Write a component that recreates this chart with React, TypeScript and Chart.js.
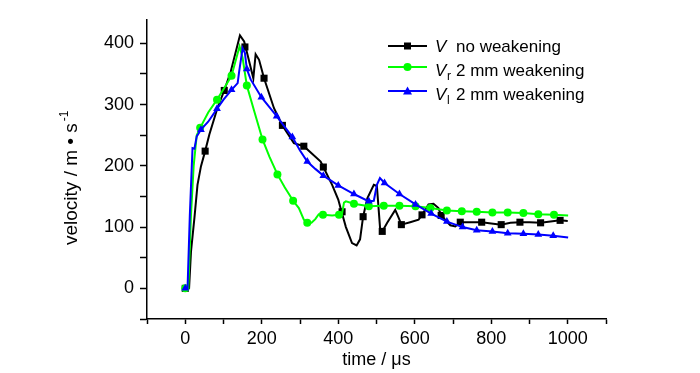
import React, { useEffect, useRef } from 'react';
import { Chart, registerables } from 'chart.js';

Chart.register(...registerables);

// ---- data ----
// V (no weakening): line
const blackT = [0, 10, 15, 24, 32, 41, 52, 63, 84, 102, 119, 143, 154, 163, 178, 184, 193, 206, 232, 254, 284, 310, 354, 361, 384, 400, 406, 420, 436, 448, 457, 465, 476, 493, 501, 510, 515, 528, 549, 558, 565, 588, 610, 619, 636, 649, 662, 669, 693, 706, 719, 750, 775, 800, 826, 850, 875, 900, 929, 955, 980, 1000];
const blackV = [0, 0, 60, 115, 169, 199, 224, 251, 294, 323, 354, 413, 403, 381, 343, 382, 373, 343, 294, 266, 237, 232, 207, 198, 169, 145, 131, 100, 74, 70, 80, 117, 147, 169, 167, 93, 93, 107, 128, 115, 104, 108, 112, 120, 137, 138, 131, 119, 103, 101, 108, 108, 108, 106, 104, 107, 108, 108, 107, 109, 111, 110];
// V markers
const blackMarkT = [0, 52, 102, 156, 206, 254, 310, 361, 410, 465, 515, 565, 619, 669, 719, 775, 826, 875, 929, 980];
const blackMarkV = [0, 224, 323, 394, 343, 266, 232, 198, 125, 117, 93, 104, 120, 119, 108, 108, 104, 108, 107, 111];

// Vr (2 mm weakening): line
const greenT = [0, 8, 15, 22, 30, 39, 60, 83, 100, 121, 142, 150, 161, 180, 202, 220, 241, 260, 282, 297, 310, 319, 330, 340, 349, 360, 384, 402, 410, 415, 420, 441, 480, 519, 560, 602, 641, 684, 723, 762, 803, 843, 884, 923, 964, 1001];
const greenV = [0, 0, 120, 200, 250, 262, 287, 308, 325, 347, 395, 376, 331, 290, 243, 215, 186, 165, 143, 131, 112, 107, 107, 113, 121, 120, 119, 120, 122, 140, 142, 138, 134, 135, 135, 134, 131, 127, 126, 125, 124, 124, 123, 121, 120, 119];
const greenMarkT = [0, 39, 83, 121, 161, 202, 241, 282, 319, 360, 402, 441, 480, 519, 560, 602, 641, 684, 723, 762, 803, 843, 884, 923, 964];
const greenMarkV = [0, 262, 308, 347, 331, 243, 186, 143, 107, 120, 120, 138, 134, 135, 135, 134, 131, 127, 126, 125, 124, 124, 123, 121, 120];

// Vl (2 mm weakening): line
const blueT = [0, 6, 12, 19, 24, 30, 38, 41, 60, 83, 100, 121, 137, 141, 150, 156, 161, 171, 199, 239, 280, 300, 319, 340, 361, 400, 441, 480, 493, 501, 509, 521, 560, 602, 643, 684, 725, 762, 803, 843, 884, 923, 962, 1001];
const blueV = [0, 0, 120, 229, 228, 248, 256, 259, 272, 293, 308, 324, 335, 354, 392, 384, 358, 341, 312, 281, 247, 225, 207, 195, 184, 168, 154, 142, 143, 169, 180, 172, 154, 137, 122, 109, 100, 95, 93, 90, 89, 88, 86, 83];
const blueMarkT = [0, 41, 83, 121, 161, 199, 239, 280, 319, 361, 400, 441, 480, 521, 560, 602, 643, 684, 725, 762, 803, 843, 884, 923, 962];
const blueMarkV = [0, 259, 293, 324, 358, 312, 281, 247, 207, 184, 168, 154, 142, 172, 154, 137, 122, 109, 100, 95, 93, 90, 89, 88, 86];

const seriesLabels = ['V  no weakening', 'Vr 2 mm weakening', 'Vl 2 mm weakening'];
const legendSubs = ['', 'r', 'l'];
const legendRest = ['no weakening', '2 mm weakening', '2 mm weakening'];

const xTickLabels = [0, 200, 400, 600, 800, 1000];
const yTickLabels = [0, 100, 200, 300, 400];

const xTitle = 'time / \u03bcs';
const yTitleMain = 'velocity / m \u2022 s';
const yTitleSup = '-1';

const BLACK = '#000000';
const GREEN = '#00ff00';
const BLUE = '#0000ff';
const FONT = "'Liberation Sans', Arial, sans-serif";

const pts = (t: number[], v: number[]) => t.map((x, i) => ({ x, y: v[i] }));

function drawMarker(ctx: CanvasRenderingContext2D, style: string, x: number, y: number, color: string) {
  ctx.fillStyle = color;
  ctx.beginPath();
  if (style === 'rect') {
    ctx.rect(x - 3.5, y - 3.5, 7, 7);
  } else if (style === 'circle') {
    ctx.arc(x, y, 4, 0, Math.PI * 2);
  } else {
    ctx.moveTo(x, y - 4.5);
    ctx.lineTo(x + 4.5, y + 3.5);
    ctx.lineTo(x - 4.5, y + 3.5);
    ctx.closePath();
  }
  ctx.fill();
}

const legendPlugin = {
  id: 'customLegend',
  afterDraw(chart: any) {
    const ctx = chart.ctx as CanvasRenderingContext2D;
    const colors = [BLACK, GREEN, BLUE];
    const styles = ['rect', 'circle', 'triangle'];
    const lineY = [46, 67, 91];
    const baseY = [52, 76, 100];
    ctx.save();
    for (let i = 0; i < 3; i++) {
      ctx.strokeStyle = colors[i];
      ctx.lineWidth = 2;
      ctx.beginPath();
      ctx.moveTo(388, lineY[i]);
      ctx.lineTo(427, lineY[i]);
      ctx.stroke();
      drawMarker(ctx, styles[i], 407.5, lineY[i], colors[i]);
      ctx.fillStyle = '#000';
      ctx.textBaseline = 'alphabetic';
      ctx.textAlign = 'left';
      ctx.font = `italic 17px ${FONT}`;
      ctx.fillText('V', 435, baseY[i]);
      if (legendSubs[i]) {
        ctx.font = `12px ${FONT}`;
        ctx.fillText(legendSubs[i], 447, baseY[i] + 4);
      }
      ctx.font = `17px ${FONT}`;
      ctx.fillText(legendRest[i], 456, baseY[i]);
    }

    // y-axis title, drawn rotated
    ctx.fillStyle = '#000';
    ctx.translate(72, 245);
    ctx.rotate(-Math.PI / 2);
    ctx.textAlign = 'left';
    ctx.textBaseline = 'middle';
    ctx.font = `19px ${FONT}`;
    ctx.fillText(yTitleMain, 0, 0);
    const w = ctx.measureText(yTitleMain).width;
    ctx.font = `12px ${FONT}`;
    ctx.fillText(yTitleSup, w + 2, -7);

    ctx.restore();
  },
};

export default function App() {
  const ref = useRef<HTMLCanvasElement | null>(null);

  useEffect(() => {
    document.body.style.margin = '0';
    if (!ref.current) return;
    const lineDs = (label: string, data: any[], color: string, order: number) => ({
      label,
      data,
      borderColor: color,
      backgroundColor: color,
      borderWidth: 2,
      pointRadius: 0,
      showLine: true,
      tension: 0,
      order,
    });
    const markDs = (label: string, data: any[], color: string, style: string, radius: number, order: number) => ({
      label,
      data,
      borderColor: color,
      backgroundColor: color,
      borderWidth: 0,
      pointRadius: radius,
      pointStyle: style,
      showLine: false,
      order,
    });
    const chart = new Chart(ref.current, {
      type: 'scatter',
      data: {
        datasets: [
          markDs(seriesLabels[2], pts(blueMarkT, blueMarkV), BLUE, 'triangle', 4.5, 0),
          lineDs(seriesLabels[2], pts(blueT, blueV), BLUE, 1),
          markDs(seriesLabels[1], pts(greenMarkT, greenMarkV), GREEN, 'circle', 4, 2),
          lineDs(seriesLabels[1], pts(greenT, greenV), GREEN, 3),
          markDs(seriesLabels[0], pts(blackMarkT, blackMarkV), BLACK, 'rect', 5, 4),
          lineDs(seriesLabels[0], pts(blackT, blackV), BLACK, 5),
        ] as any,
      },
      options: {
        animation: false,
        responsive: false,
        maintainAspectRatio: false,
        layout: { padding: { left: 68, right: 94, top: 20, bottom: 0 } },
        plugins: { legend: { display: false }, tooltip: { enabled: false } },
        scales: {
          x: {
            type: 'linear',
            min: -100,
            max: 1100,
            afterFit: (s: any) => { s.height = 54; },
            border: { display: true, color: '#000', width: 1.5 },
            grid: { drawOnChartArea: false, drawTicks: true, tickLength: 5, color: '#000', tickWidth: 1.5 },
            ticks: {
              stepSize: 100,
              autoSkip: false,
              maxRotation: 0,
              padding: 4,
              color: '#000',
              font: { family: FONT, size: 18 },
              callback: (v: any) => (xTickLabels.includes(Number(v)) ? String(v) : ''),
            },
            title: { display: true, text: xTitle, color: '#000', font: { family: FONT, size: 18 }, padding: { top: 0, bottom: 2 } },
          },
          y: {
            type: 'linear',
            min: -50,
            max: 438,
            afterFit: (s: any) => { s.width = 79; },
            border: { display: true, color: '#000', width: 1.5 },
            grid: { drawOnChartArea: false, drawTicks: true, tickLength: 7, color: '#000', tickWidth: 1.5 },
            ticks: {
              stepSize: 50,
              autoSkip: false,
              padding: 6,
              color: '#000',
              font: { family: FONT, size: 18 },
              callback: (v: any) => {
                const n = Number(v);
                if (n % 50 !== 0) return null;
                return yTickLabels.includes(n) ? String(n) : '';
              },
            },
            title: { display: false },
          },
        },
      },
      plugins: [legendPlugin],
    });
    return () => chart.destroy();
  }, []);

  return (
    <div style={{ width: 700, height: 373, background: '#fff' }}>
      <canvas ref={ref} width={700} height={373} style={{ display: 'block' }} />
    </div>
  );
}
